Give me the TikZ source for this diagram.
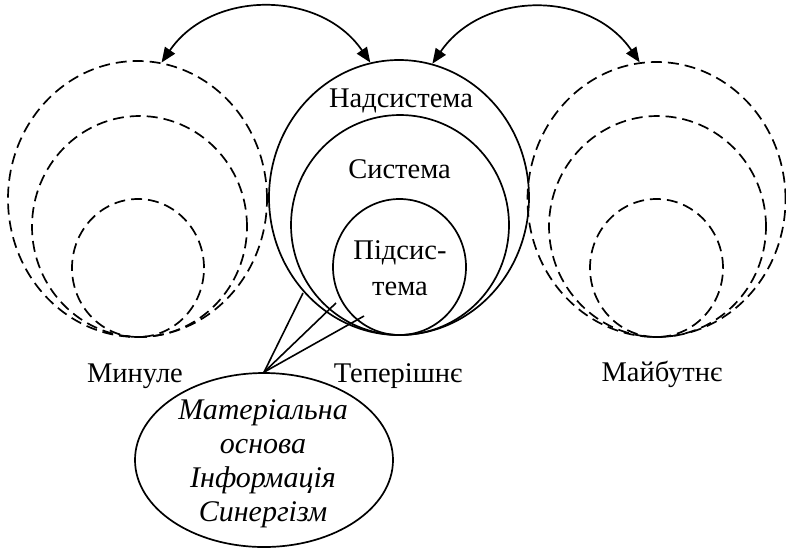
\documentclass[tikz,border=0pt]{standalone}
\usepackage{fontspec}
\setmainfont{Liberation Serif}
\usetikzlibrary{shapes.geometric,arrows.meta}
\begin{document}
\begin{tikzpicture}[x=1pt,y=-1pt,
  ring/.style={draw, ellipse, inner sep=0pt, line width=1.7pt},
  dashring/.style={ring, dash pattern=on 11pt off 6pt},
  lbl/.style={font=\fontsize{28.5}{36}\selectfont, inner sep=0pt, align=center},
  note/.style={font=\fontsize{30}{34}\selectfont\itshape, inner sep=0pt, align=center},
  link/.style={line width=1.7pt, {Triangle[length=15pt,width=12pt]}-{Triangle[length=15pt,width=12pt]}},
  leader/.style={line width=1.6pt}]
\useasboundingbox (0,0) rectangle (786,550);

% past: three nested dashed rings
\node[dashring, minimum width=259pt, minimum height=276pt] (pastA) at (137.5,199) {};
\node[dashring, minimum width=215pt, minimum height=221pt] (pastB) at (139.5,226.5) {};
\node[dashring, minimum width=132pt, minimum height=138pt] (pastC) at (138,268) {};

% present: three nested solid rings
\node[ring, minimum width=260pt, minimum height=275pt] (supra) at (399,197.5) {};
\node[ring, minimum width=218pt, minimum height=220pt] (sys) at (400,225) {};
\node[ring, minimum width=133pt, minimum height=136pt] (sub) at (399.5,267) {};

% future: three nested dashed rings
\node[dashring, minimum width=258pt, minimum height=275pt] (futA) at (656.5,199.5) {};
\node[dashring, minimum width=217pt, minimum height=221pt] (futB) at (657.5,226.5) {};
\node[dashring, minimum width=133pt, minimum height=138pt] (futC) at (656.5,268) {};

% ring captions
\node[lbl] (tsupra) at (401,101) {Надсистема};
\node[lbl] (tsys) at (399.5,169) {Система};
\node[lbl] (tsub) at (400,268) {Підсис-\\тема};

% time captions
\node[lbl] (tpast) at (135,376) {Минуле};
\node[lbl] (tnow) at (398,376) {Теперішнє};
\node[lbl] (tfut) at (662,374) {Майбутнє};

% links between time slices
\draw[link] (pastA.80) .. controls +(50,-73) and +(-50,-73) .. (supra.102);
\draw[link] (supra.76) .. controls +(50,-73) and +(-50,-73) .. (futA.97);

% note ellipse with its leaders
\node[ring, minimum width=258pt, minimum height=174pt] (info) at (264,460) {};
\node[note] (tinfo) at (263,464) {Матеріальна\\основа\\Інформація\\Синергізм};
\coordinate (pSupra) at (303,293);
\coordinate (pSys) at (336,303);
\coordinate (pSub) at (364,316);
\draw[leader] (info.north) -- (pSupra);
\draw[leader] (info.north) -- (pSys);
\draw[leader] (info.north) -- (pSub);
\end{tikzpicture}
\end{document}
